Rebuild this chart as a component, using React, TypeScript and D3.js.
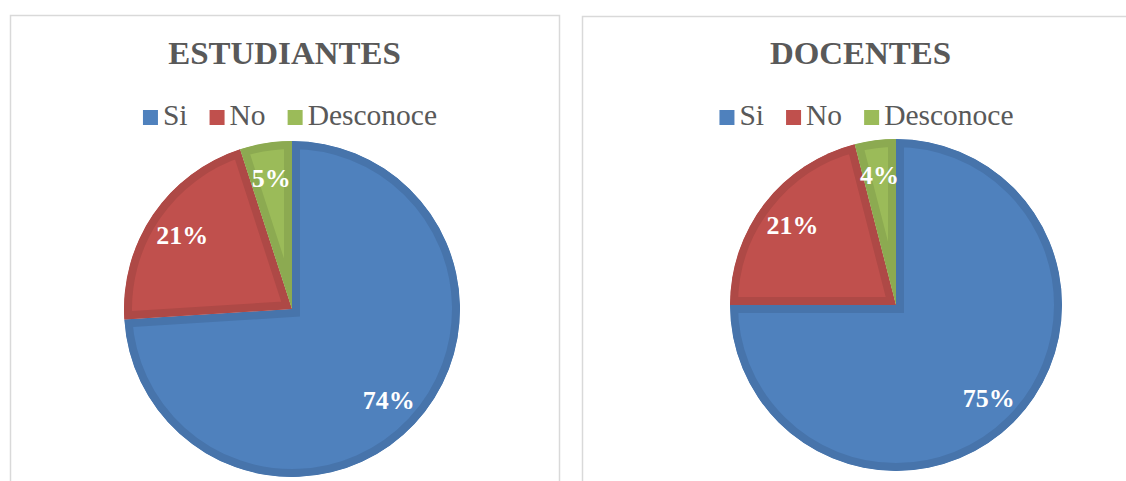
import React, { useEffect, useRef } from "react";
import * as d3 from "d3";

const categories = ["Si", "No", "Desconoce"];
const estudiantesValues = [74, 21, 5];
const docentesValues = [75, 21, 4];
const chartTitles = ["ESTUDIANTES", "DOCENTES"];

const fillColors = ["#4F81BD", "#C0504D", "#9BBB59"];
const borderColors = ["#4774AB", "#AE4946", "#8CAA51"];

const W = 1126;
const H = 481;
const FONT = "'Liberation Serif', 'Times New Roman', serif";

const panels = [
  { x: 10.5, y: 15.5, w: 549, h: 520, cx: 292, cy: 309, r: 168, titleX: 284.5, legendX: 290, values: estudiantesValues, title: chartTitles[0] },
  { x: 582.5, y: 16.5, w: 560, h: 520, cx: 896, cy: 305, r: 166, titleX: 860.5, legendX: 866.5, values: docentesValues, title: chartTitles[1] },
];

export default function App() {
  const ref = useRef<SVGSVGElement | null>(null);

  useEffect(() => {
    const svg = d3.select(ref.current);
    svg.selectAll("*").remove();
    const defs = svg.append("defs");

    panels.forEach((p, pi) => {
      const g = svg.append("g");
      g.append("rect")
        .attr("x", p.x).attr("y", p.y).attr("width", p.w).attr("height", p.h)
        .attr("fill", "#fff").attr("stroke", "#d9d9d9").attr("stroke-width", 1.5);

      // title
      g.append("text")
        .attr("transform", `translate(${p.titleX},64) scale(1.08,1)`)
        .attr("text-anchor", "middle")
        .attr("font-family", FONT).attr("font-weight", "bold").attr("font-size", 30.5)
        .attr("fill", "#595959")
        .text(p.title);

      // legend
      const lg = g.append("g");
      let cursor = 0;
      const sq = 15;
      categories.forEach((c, i) => {
        const item = lg.append("g").attr("transform", `translate(${cursor},0)`);
        item.append("rect").attr("x", 0).attr("y", -sq).attr("width", sq).attr("height", sq).attr("fill", fillColors[i]);
        const t = item.append("text")
          .attr("x", sq + 5).attr("y", 0)
          .attr("font-family", FONT).attr("font-size", 29.5).attr("fill", "#595959")
          .text(c);
        const tw = (t.node() as SVGTextElement).getComputedTextLength();
        cursor += sq + 5 + tw + 22;
      });
      const totalW = cursor - 22;
      lg.attr("transform", `translate(${p.legendX - totalW / 2},125)`);

      // pie
      const pie = d3.pie<number>().sort(null).value((d) => d);
      const arcs = pie(p.values);
      const arc = d3.arc<d3.PieArcDatum<number>>().innerRadius(0).outerRadius(p.r);
      const lk = 0.79;
      const labelArc = d3.arc<d3.PieArcDatum<number>>().innerRadius(p.r * lk).outerRadius(p.r * lk);
      const pg = g.append("g").attr("transform", `translate(${p.cx},${p.cy})`);
      arcs.forEach((a, i) => {
        const id = `clip-${pi}-${i}`;
        const d = arc(a) as string;
        defs.append("clipPath").attr("id", id).append("path").attr("d", d);
        pg.append("path")
          .attr("d", d)
          .attr("fill", fillColors[i])
          .attr("stroke", borderColors[i])
          .attr("stroke-width", 16)
          .attr("stroke-linejoin", "miter")
          .attr("clip-path", `url(#${id})`);
      });
      arcs.forEach((a, i) => {
        const [lx, ly] = labelArc.centroid(a);
        pg.append("text")
          .attr("x", lx).attr("y", ly).attr("dy", "0.35em")
          .attr("text-anchor", "middle")
          .attr("font-family", FONT).attr("font-weight", "bold").attr("font-size", 26)
          .attr("fill", "#ffffff")
          .text(`${p.values[i]}%`);
      });
    });
  }, []);

  return (
    <svg ref={ref} width={W} height={H} style={{ position: "absolute", left: 0, top: 0, background: "#fff" }} />
  );
}
